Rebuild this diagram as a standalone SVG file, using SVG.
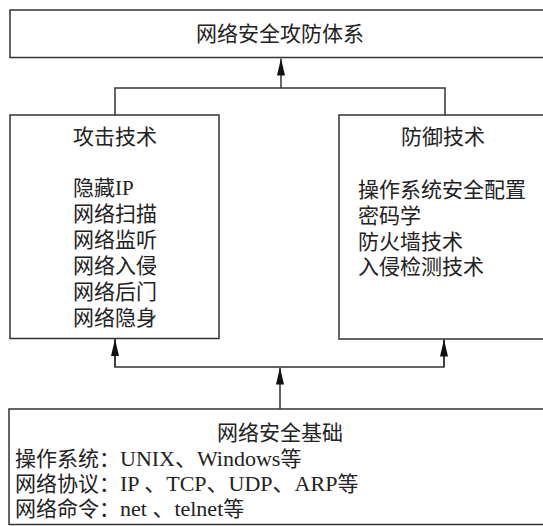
<svg xmlns="http://www.w3.org/2000/svg" width="543" height="526" viewBox="0 0 543 526">
<style>
.box{fill:#fff;stroke:#333;stroke-width:1.5}
.ln{fill:none;stroke:#333;stroke-width:1.5}
text{font-family:"Liberation Serif","Noto Sans CJK SC",serif;font-size:21px;fill:#222}
.c{text-anchor:middle}
</style>
<defs>
<marker id="ah" markerUnits="userSpaceOnUse" markerWidth="17" markerHeight="8" viewBox="0 0 17 8" refX="17" refY="4" orient="auto">
<path d="M17,4 L0,8 L0,0 Z" fill="#111"/>
</marker>
</defs>
<rect width="543" height="526" fill="#fff"/>
<g id="connectors">
<path class="ln" d="M115,115 V88 H445 V115"/>
<line class="ln" x1="281" y1="88" x2="281" y2="58.5" marker-end="url(#ah)"/>
<path class="ln" d="M115,339 V367 H444 V339"/>
<line class="ln" x1="115" y1="367" x2="115" y2="339" marker-end="url(#ah)"/>
<line class="ln" x1="444" y1="367" x2="444" y2="339.5" marker-end="url(#ah)"/>
<line class="ln" x1="280" y1="409" x2="280" y2="367.5" marker-end="url(#ah)"/>
</g>
<g id="top">
<rect class="box" x="10" y="10" width="540" height="47.5"/>
<text class="c" x="280" y="41">网络安全攻防体系</text>
</g>
<g id="attack">
<rect class="box" x="10" y="115" width="209" height="223.5"/>
<text class="c" x="115" y="144">攻击技术</text>
<text x="73" y="195">隐藏IP</text>
<text x="73" y="221">网络扫描</text>
<text x="73" y="247">网络监听</text>
<text x="73" y="273">网络入侵</text>
<text x="73" y="299">网络后门</text>
<text x="73" y="325">网络隐身</text>
</g>
<g id="defense">
<rect class="box" x="339" y="115" width="210" height="224"/>
<text class="c" x="443" y="144">防御技术</text>
<text x="358" y="197">操作系统安全配置</text>
<text x="358" y="223">密码学</text>
<text x="358" y="249">防火墙技术</text>
<text x="358" y="274">入侵检测技术</text>
</g>
<g id="base">
<rect class="box" x="9" y="409" width="540" height="115.5"/>
<text class="c" x="280" y="440">网络安全基础</text>
<text x="15" y="466">操作系统：<tspan font-size="22">UNIX、Windows</tspan>等</text>
<text x="15" y="491">网络协议：<tspan font-size="22">IP 、TCP、UDP、ARP</tspan>等</text>
<text x="15" y="516">网络命令：<tspan font-size="22">net 、telnet</tspan>等</text>
</g>
</svg>
